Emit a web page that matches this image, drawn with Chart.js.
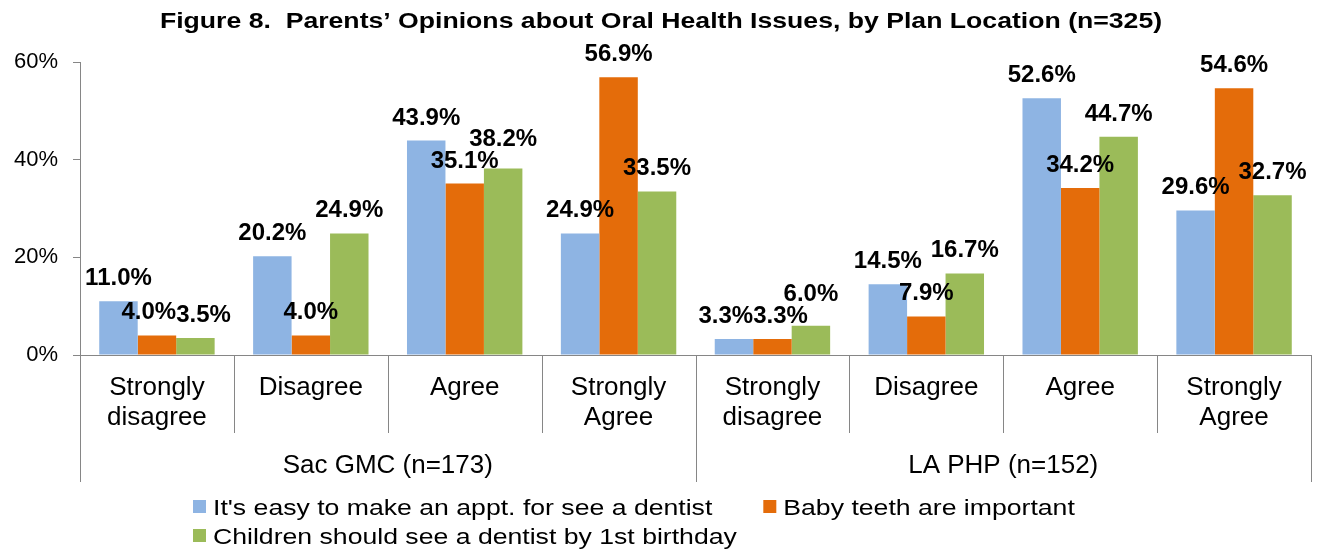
<!DOCTYPE html>
<html>
<head>
<meta charset="utf-8">
<script src="https://cdn.jsdelivr.net/npm/chart.js@4.4.1/dist/chart.umd.min.js"></script>
<style>
  html, body { margin: 0; padding: 0; background: #ffffff; }
  #wrap { width: 1320px; height: 552px; }
</style>
</head>
<body>
<div id="wrap"><canvas id="c" width="1320" height="552"></canvas></div>
<script>
// ---- data ----
const titleText = 'Figure 8.  Parents\u2019 Opinions about Oral Health Issues, by Plan Location (n=325)';
const categories = [
  ['Strongly', 'disagree'], 'Disagree', 'Agree', ['Strongly', 'Agree'],
  ['Strongly', 'disagree'], 'Disagree', 'Agree', ['Strongly', 'Agree']
];
const groupLabels = ['Sac GMC (n=173)', 'LA PHP (n=152)'];
const groupSize = 4;
const seriesNames = [
  "It's easy to make an appt. for see a dentist",
  'Baby teeth are important',
  'Children should see a dentist by 1st birthday'
];
const easyAppt      = [11.0, 20.2, 43.9, 24.9, 3.3, 14.5, 52.6, 29.6];
const babyTeeth     = [4.0, 4.0, 35.1, 56.9, 3.3, 7.9, 34.2, 54.6];
const firstBirthday = [3.5, 24.9, 38.2, 33.5, 6.0, 16.7, 44.7, 32.7];
const yTicks = [0, 20, 40, 60];

// ---- styles ----
const FONT = '"Liberation Sans", Arial, Helvetica, sans-serif';
const colors = ['#8EB4E3', '#E46C0A', '#9BBB59'];
const axisColor = '#868686';

Chart.defaults.font.family = FONT;
Chart.defaults.color = '#000000';

const decorPlugin = {
  id: 'decor',
  afterDatasetsDraw(chart) {
    const ctx = chart.ctx;
    ctx.save();
    ctx.fillStyle = '#000';
    ctx.font = 'bold 24px ' + FONT;
    ctx.textAlign = 'center';
    ctx.textBaseline = 'alphabetic';
    const capH = 17;
    const n = chart.data.labels.length;
    for (let i = 0; i < n; i++) {
      const items = chart.data.datasets.map((ds, di) => {
        const el = chart.getDatasetMeta(di).data[i];
        const text = ds.data[i].toFixed(1) + '%';
        return { text, x: el.x, y: el.y - 16, w: ctx.measureText(text).width };
      });
      // simple overlap avoidance between neighbouring labels
      for (let k = 0; k + 1 < items.length; k++) {
        const a = items[k], b = items[k + 1];
        const ox = (a.x + a.w / 2) - (b.x - b.w / 2);
        const oy = capH - Math.abs(a.y - b.y);
        if (ox > 0 && oy > 0) {
          if (oy > 6) {
            const s = ox / 2;
            a.x -= s; b.x += s;
          } else {
            const up = a.y < b.y ? a : b;
            up.y -= oy + 5;
          }
        }
      }
      items.forEach(it => ctx.fillText(it.text, it.x, it.y));
    }
    ctx.restore();
  },
  afterDraw(chart) {
    const ctx = chart.ctx;
    const xs = chart.scales.x;
    const area = chart.chartArea;
    const n = chart.data.labels.length;
    ctx.save();
    // category / group separators
    ctx.strokeStyle = axisColor;
    ctx.lineWidth = 1;
    for (let i = 0; i <= n; i++) {
      let x;
      if (i === 0) x = area.left;
      else if (i === n) x = area.right;
      else x = (xs.getPixelForTick(i - 1) + xs.getPixelForTick(i)) / 2;
      x = Math.round(x) + 0.5;
      const yEnd = (i % groupSize === 0) ? area.bottom + 127 : area.bottom + 78;
      ctx.beginPath();
      ctx.moveTo(x, area.bottom);
      ctx.lineTo(x, yEnd);
      ctx.stroke();
    }
    // group labels
    ctx.fillStyle = '#000';
    ctx.font = '26px ' + FONT;
    ctx.textAlign = 'center';
    ctx.textBaseline = 'alphabetic';
    groupLabels.forEach((g, gi) => {
      const a = gi * groupSize, b = a + groupSize - 1;
      const left = a === 0 ? area.left : (xs.getPixelForTick(a - 1) + xs.getPixelForTick(a)) / 2;
      const right = b === n - 1 ? area.right : (xs.getPixelForTick(b) + xs.getPixelForTick(b + 1)) / 2;
      ctx.fillText(g, (left + right) / 2, area.bottom + 118);
    });
    // title (slightly stretched horizontally like the reference)
    ctx.save();
    ctx.font = 'bold 22px ' + FONT;
    ctx.textAlign = 'center';
    ctx.translate(661, 28);
    ctx.scale(1.21, 1);
    ctx.fillText(titleText, 0, 0);
    ctx.restore();
    // legend
    const sx = 1.21;
    ctx.font = '22px ' + FONT;
    ctx.textAlign = 'left';
    const rows = [[0, 1], [2]];
    const baselines = [515, 544];
    rows.forEach((row, ri) => {
      let x = 193;
      row.forEach((di) => {
        const ds = chart.data.datasets[di];
        ctx.fillStyle = ds.backgroundColor;
        ctx.fillRect(x, baselines[ri] - 15, 13, 13);
        ctx.fillStyle = '#000';
        ctx.save();
        ctx.translate(x + 20, baselines[ri]);
        ctx.scale(sx, 1);
        ctx.fillText(ds.label, 0, 0);
        ctx.restore();
        x = x + 20 + ctx.measureText(ds.label).width * sx + 51;
      });
    });
    ctx.restore();
  }
};

new Chart(document.getElementById('c'), {
  type: 'bar',
  data: {
    labels: categories,
    datasets: [
      { label: seriesNames[0], data: easyAppt, backgroundColor: colors[0] },
      { label: seriesNames[1], data: babyTeeth, backgroundColor: colors[1] },
      { label: seriesNames[2], data: firstBirthday, backgroundColor: colors[2] }
    ]
  },
  options: {
    responsive: false,
    animation: false,
    layout: { padding: { left: 0, right: 9, top: 62, bottom: 67 } },
    datasets: { bar: { categoryPercentage: 0.75, barPercentage: 1.0 } },
    plugins: {
      legend: { display: false },
      title: { display: false },
      tooltip: { enabled: false }
    },
    scales: {
      x: {
        grid: { display: false, drawTicks: false },
        border: { display: true, color: axisColor, width: 1 },
        ticks: {
          padding: 18,
          maxRotation: 0,
          autoSkip: false,
          font: { size: 26, lineHeight: 30 / 26 },
          color: '#000'
        },
        afterFit(scale) { scale.height = 130; }
      },
      y: {
        min: 0,
        max: 60,
        afterBuildTicks(scale) { scale.ticks = yTicks.map(v => ({ value: v })); },
        grid: { display: true, drawOnChartArea: false, drawTicks: true, tickLength: 7, color: axisColor },
        border: { display: true, color: axisColor, width: 1 },
        ticks: {
          padding: 15,
          font: { size: 22 },
          color: '#000',
          callback: (v) => v + '%'
        },
        afterFit(scale) { scale.width = 80; }
      }
    }
  },
  plugins: [decorPlugin]
});
</script>
</body>
</html>
